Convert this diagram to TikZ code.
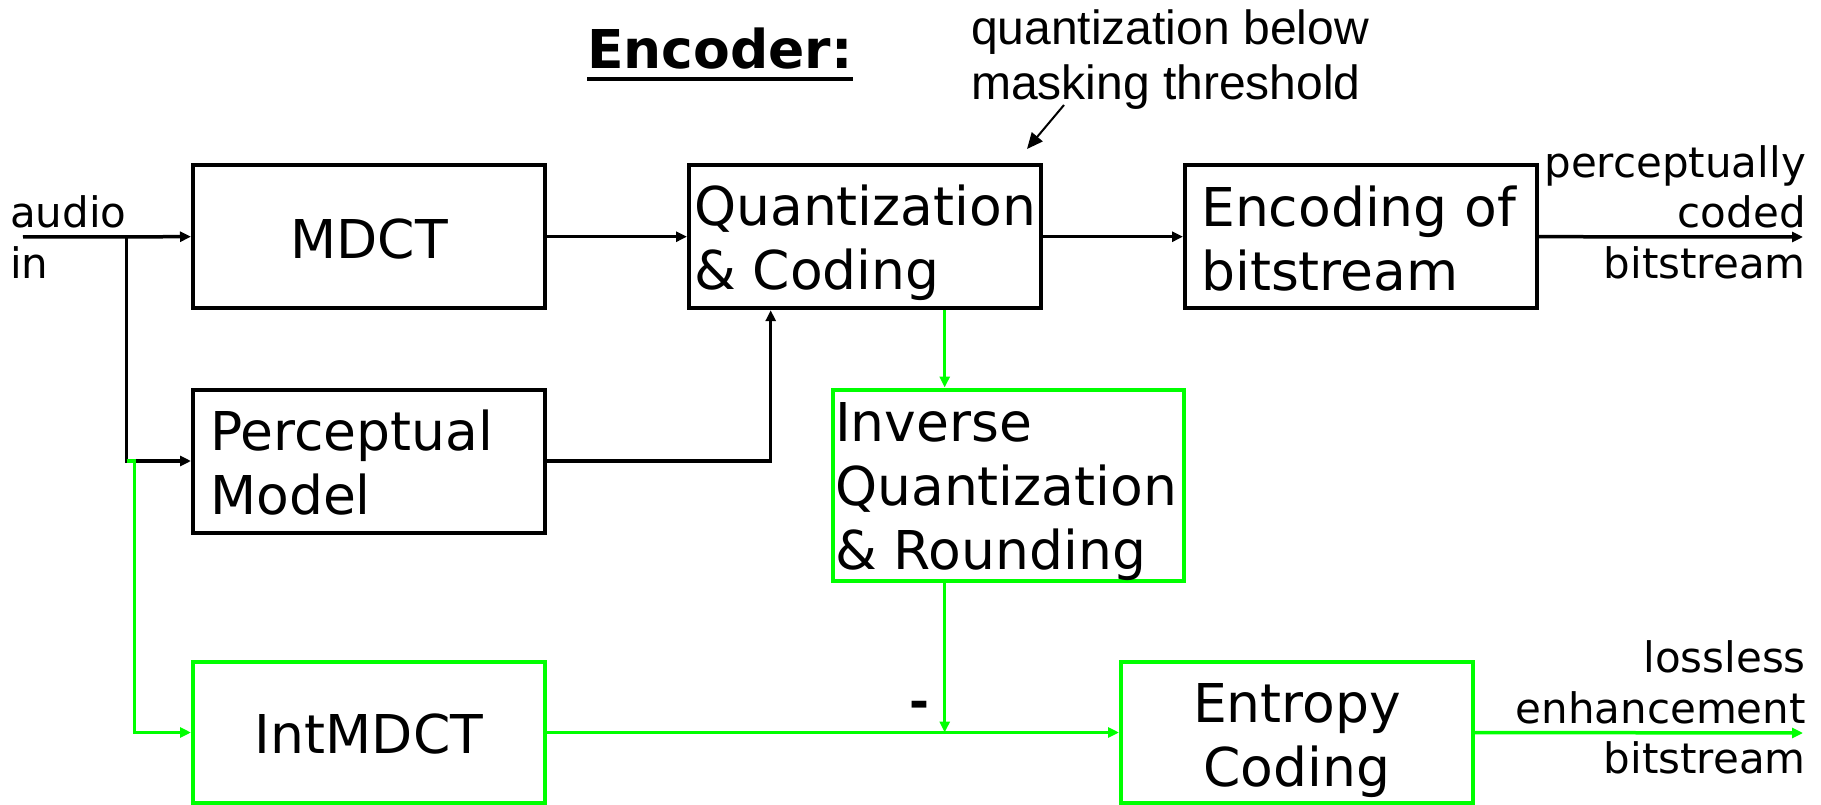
\documentclass[tikz,border=0pt]{standalone}
\usepackage{fontspec}
\setmainfont{DejaVu Sans}
\newfontfamily\annfont{Liberation Sans}
\usetikzlibrary{arrows.meta}
\definecolor{grn}{RGB}{0,255,0}
% multi-line text blocks whose reference point is the first baseline
\newcommand\stackleft[1]{\vtop{\halign{##\hfil\cr#1\crcr}}}
\newcommand\stackright[1]{\vtop{\halign{\hfil##\cr#1\crcr}}}
\newcommand\stackmid[1]{\vtop{\halign{\hfil##\hfil\cr#1\crcr}}}
\begin{document}
\begin{tikzpicture}[x=1pt,y=-1pt,
  box/.style={draw, line width=4pt, minimum width=352pt, minimum height=143pt, inner sep=0pt},
  gbox/.style={box, draw=grn},
  txt/.style={inner sep=0pt, font=\fontsize{53.5}{64}\selectfont},
  lbl/.style={inner sep=0pt, font=\fontsize{42}{50.5}\selectfont},
  conn/.style={line width=3.5pt, -{Triangle[length=11pt,width=10pt]}},
  gconn/.style={conn, color=grn}]
\useasboundingbox (0,0) rectangle (1821,805);

% title and annotation
\node[inner sep=0pt, anchor=base west, font=\fontsize{53.5}{60}\selectfont\bfseries] (title) at (587,69) {Encoder:};
\draw[line width=3.5pt] ([yshift=-10pt]title.base west) -- ([yshift=-10pt]title.base east);
\node[inner sep=0pt, anchor=base west, font=\annfont\fontsize{48}{55}\selectfont] (annot) at (971,45)
  {\stackleft{quantization below\cr masking threshold}};
\coordinate (ann-from) at (1064,105);
\coordinate (ann-to) at (1027,149);
\draw[line width=2pt, -{Triangle[length=16pt,width=14pt]}] (ann-from) -- (ann-to);

% blocks
\node[box]  (mdct)  at (369,236.7) {};
\node[box]  (perc)  at (369,461) {};
\node[gbox, minimum height=141pt] (int) at (369,732.5) {};
\node[box]  (quant) at (865,236.7) {};
\node[box]  (enc)   at (1361,236.7) {};
\node[gbox, minimum width=351pt, minimum height=191pt] (inv) at (1008.5,485) {};
\node[gbox, minimum height=141pt] (ent) at (1297,732.5) {};

% block texts
\node[txt, anchor=base] (mdct-t) at (369,258.3) {MDCT};
\node[txt, anchor=base west] (perc-t) at (210,450) {\stackleft{Perceptual\cr Model}};
\node[txt, anchor=base] (int-t) at (369,753.3) {IntMDCT};
\node[txt, anchor=base west] (quant-t) at (694,226) {\stackleft{Quantization\cr \& Coding}};
\node[txt, anchor=base west] (enc-t) at (1201,226.7) {\stackleft{Encoding of\cr bitstream}};
\node[txt, anchor=base west] (inv-t) at (835,441.7) {\stackleft{Inverse\cr Quantization\cr \& Rounding}};
\node[txt, anchor=base] (ent-t) at (1297,722.7) {\stackmid{Entropy\cr Coding}};

% input and output labels
\node[lbl, anchor=base west] (ain-t) at (10,228) {\stackleft{audio\cr in}};
\node[lbl, anchor=base east] (out1-t) at (1806,177.5) {\stackright{perceptually\cr coded\cr bitstream}};
\node[lbl, anchor=base east] (out2-t) at (1806,672.5) {\stackright{lossless\cr enhancement\cr bitstream}};
\node[inner sep=0pt, anchor=base, font=\fontsize{48}{48}\selectfont\bfseries] (minus) at (919,718) {-};

% black signal path
\coordinate (ain) at (23,237);
\coordinate (split) at (126.5,237);
\coordinate (out1) at (1803,237);
\draw[conn] (ain) -- (mdct.west);
\draw[conn] (split) |- (perc.west);
\draw[conn] (mdct.east) -- (quant.west);
\draw[conn] (perc.east) -| ([xshift=-94.3pt]quant.south);
\draw[conn] (quant.east) -- (enc.west);
\draw[conn] (enc.east) -- (out1);

% green lossless path
\coordinate (gsplit) at (126.5,461);
\coordinate (gbend) at (134.5,461);
\coordinate (qs) at ([xshift=79.7pt]quant.south);
\coordinate (sum) at (qs |- int.east);
\coordinate (out2) at (1803,733);
\draw[gconn] (gsplit) -- (gbend) |- (int.west);
\draw[gconn] (qs) -- (qs |- inv.north);
\draw[gconn] (qs |- inv.south) -- (sum);
\draw[gconn] (int.east) -- (ent.west);
\draw[gconn] (ent.east) -- (out2);
\end{tikzpicture}
\end{document}
